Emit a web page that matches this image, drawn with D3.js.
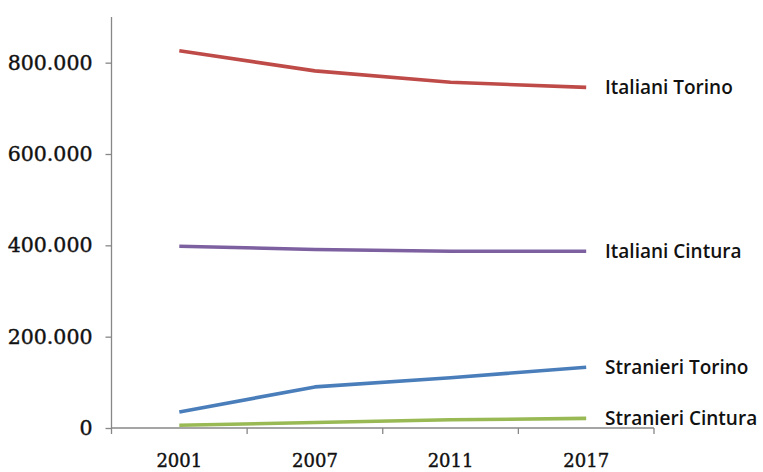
<!DOCTYPE html>
<html>
<head>
<meta charset="utf-8">
<script src="https://cdn.jsdelivr.net/npm/d3@7"></script>
<style>
  html, body { margin: 0; padding: 0; background: #fff; }
  svg { display: block; }
</style>
</head>
<body>
<svg id="chart" width="763" height="472"></svg>
<script>
// Population of Turin and its surrounding belt (Cintura), Italians vs. foreigners
const years = ["2001", "2007", "2011", "2017"];
const italianiTorino   = [826000, 782000, 757000, 746000];
const italianiCintura  = [398000, 391000, 387000, 387000];
const stranieriTorino  = [35000, 90000, 110000, 133000];
const stranieriCintura = [6000, 12000, 18000, 21000];
const seriesNames  = ["Italiani Torino", "Italiani Cintura", "Stranieri Torino", "Stranieri Cintura"];
const seriesColors = ["#be4b48", "#7d60a0", "#4a7ebb", "#98b954"];
const yTicks = [0, 200000, 400000, 600000, 800000];

const series = [italianiTorino, italianiCintura, stranieriTorino, stranieriCintura]
  .map((values, i) => ({ name: seriesNames[i], color: seriesColors[i], values }));

const svg = d3.select("#chart");
const plot = { left: 111.5, right: 654, top: 17, bottom: 428 };

const x = d3.scaleBand().domain(years).range([plot.left, plot.right]);
const y = d3.scaleLinear().domain([0, 900000]).range([plot.bottom, plot.top]);

const fmt = v => d3.format(",")(v).replace(/,/g, ".");
const axisColor = "#878787";

// Y axis
const yAxis = svg.append("g").attr("transform", `translate(${plot.left},0)`)
  .call(d3.axisLeft(y).tickValues(yTicks).tickFormat(fmt).tickSize(6).tickPadding(13));
yAxis.select(".domain").attr("d", `M0,${plot.bottom}V${plot.top}`).attr("stroke", axisColor).attr("stroke-width", 1.3);
yAxis.selectAll(".tick line").attr("stroke", axisColor).attr("stroke-width", 1.3);
yAxis.selectAll(".tick text")
  .attr("font-family", "'DejaVu Serif', serif")
  .attr("font-size", 20.5)
  .attr("fill", "#111").attr("stroke", "#111").attr("stroke-width", 0.4);

// X axis with tick marks on category boundaries
const xAxis = svg.append("g").attr("transform", `translate(0,${plot.bottom})`);
xAxis.append("line").attr("x1", plot.left).attr("x2", plot.right).attr("stroke", axisColor).attr("stroke-width", 1.3);
const bounds = years.map(d => x(d)).concat([plot.right]);
xAxis.selectAll(".bt").data(bounds).join("line")
  .attr("x1", d => d).attr("x2", d => d).attr("y1", 0).attr("y2", 6)
  .attr("stroke", axisColor).attr("stroke-width", 1.3);
xAxis.selectAll(".lbl").data(years).join("text")
  .attr("x", d => x(d) + x.bandwidth() / 2).attr("y", 39)
  .attr("text-anchor", "middle")
  .attr("font-family", "'DejaVu Serif', serif").attr("font-size", 18)
  .attr("fill", "#111").attr("stroke", "#111").attr("stroke-width", 0.4)
  .text(d => d);

// Lines
const line = d3.line()
  .x((v, i) => x(years[i]) + x.bandwidth() / 2)
  .y(v => y(v));

svg.selectAll(".series").data(series).join("path")
  .attr("d", d => line(d.values))
  .attr("fill", "none").attr("stroke", d => d.color)
  .attr("stroke-width", 3.6).attr("stroke-linejoin", "round");

// End-of-line labels
svg.selectAll(".name").data(series).join("text")
  .attr("x", 605)
  .attr("y", d => y(d.values[d.values.length - 1]) + 6.5)
  .attr("font-family", "'Open Sans', sans-serif").attr("font-size", 19).attr("font-weight", 600)
  .attr("fill", "#111").text(d => d.name);
</script>
</body>
</html>
